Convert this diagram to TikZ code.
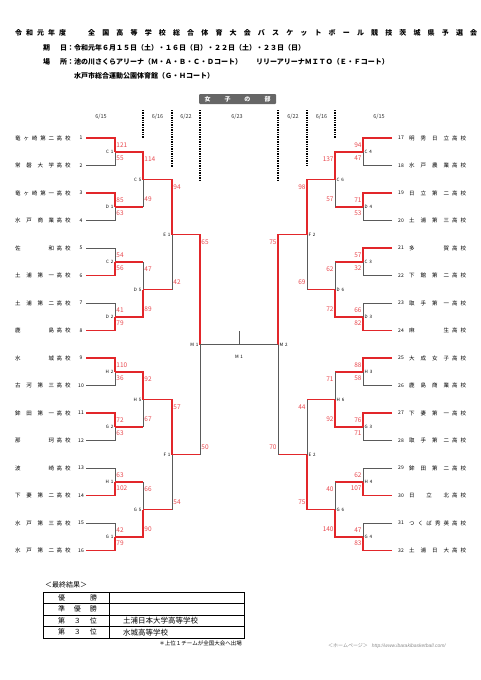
\documentclass[tikz,border=0pt]{standalone}
\usepackage{fontspec}
\setmainfont{Noto Sans CJK JP}
\newfontfamily\urlfont{Liberation Sans}
\usetikzlibrary{calc}

\definecolor{winred}{RGB}{226,38,42}
\definecolor{scorered}{RGB}{232,72,78}
\definecolor{losegray}{RGB}{90,90,90}

\newcommand\spreadloop[2]{#1\ifx\relax#2\else\hfil\expandafter\spreadloop\expandafter#2\fi}
\newcommand\spreadbox[2]{\makebox[#1][s]{\expandafter\spreadloop#2\relax}}
\newcommand\splitlab[2]{#1\hspace{1.8pt}#2}

\begin{document}
\begin{tikzpicture}[x=1pt,y=-1pt,
	win/.style={draw=winred,line width=1.4pt},
	lose/.style={draw=losegray,line width=0.6pt},
	score/.style={text=scorered,font=\fontsize{6.5}{7}\selectfont,inner xsep=1.2pt,inner ysep=0pt},
	mlab/.style={font=\fontsize{4.5}{5}\selectfont,inner xsep=1.5pt,inner ysep=0pt},
	team/.style={font=\fontsize{5.5}{6}\selectfont,inner sep=0pt,anchor=west},
	num/.style={font=\fontsize{5}{6}\selectfont,inner sep=0pt},
	date/.style={font=\fontsize{5.5}{6}\selectfont,text=black!80,inner sep=0pt},
	daysep/.style={line width=1.1pt,dash pattern=on 1.4pt off 1pt},
	head/.style={font=\fontsize{7}{8}\selectfont\bfseries,inner sep=0pt,anchor=west},
	tbl/.style={line width=0.9pt},
	]
			\useasboundingbox (0,0) rectangle (481,680);
			
			\node[head] (title1) at (15,33) {\spreadbox{51pt}{令和元年度}};
			\node[head] (title2) at (88,33) {\spreadbox{389pt}{全国高等学校総合体育大会バスケットボール競技茨城県予選会}};
			\node[head] (kijitsu) at (43,48) {\spreadbox{24pt}{期日}：令和元年６月１５日（土）・１６日（日）・２２日（土）・２３日（日）};
			\node[head] (basho) at (43,62) {\spreadbox{24pt}{場所}：池の川さくらアリーナ（Ｍ・Ａ・Ｂ・Ｃ・Ｄコート）　　リリーアリーナＭＩＴＯ（Ｅ・Ｆコート）};
			\node[head] (basho2) at (74,76) {水戸市総合運動公園体育館（Ｇ・Ｈコート）};
			\node[fill=black!60,text=white,rounded corners=1pt,minimum width=77pt,minimum height=10pt,inner sep=0pt,font=\fontsize{6}{7}\selectfont\bfseries] (bu) at (237.5,99) {\spreadbox{66pt}{女子の部}};
			
			\node[date] (d1) at (101,117) {6/15};
			\node[date] (d2) at (157.5,117) {6/16};
			\node[date] (d3) at (186,117) {6/22};
			\node[date] (d4) at (237,117) {6/23};
			\node[date] (d5) at (293,117) {6/22};
			\node[date] (d6) at (321.5,117) {6/16};
			\node[date] (d7) at (379,117) {6/15};
			\foreach \x/\y in {143/138,172/167,200/180,278/180,307/166,335/138}
				\draw[daysep] (\x,110) -- (\x,\y);
			
			\foreach \i/\nm in {1/竜ヶ崎第二,2/常磐大学,3/竜ヶ崎第一,4/水戸商業,5/佐和,6/土浦第一,7/土浦第二,8/鹿島,9/水城,10/古河第三,11/鉾田第一,12/那珂,13/波崎,14/下妻第二,15/水戸第三,16/水戸第二}{
				\pgfmathsetmacro\ty{138+(\i-1)*27.5}
				\node[team] (name\i) at (15,\ty) {\spreadbox{39pt}{\nm}\hspace{2.5pt}\spreadbox{14pt}{高校}};
				\node[num] (num\i) at (81,\ty) {\i};
				\coordinate (t\i) at (86,\ty);
			}
			\foreach \i/\nm in {17/明秀日立,18/水戸農業,19/日立第二,20/土浦第三,21/多賀,22/下館第二,23/取手第一,24/麻生,25/大成女子,26/鹿島商業,27/下妻第一,28/取手第二,29/鉾田第二,30/日立北,31/つくば秀英,32/土浦日大}{
				\pgfmathsetmacro\ty{138+(\i-17)*27.5}
				\node[team] (name\i) at (409,\ty) {\spreadbox{40pt}{\nm}\hspace{3pt}\spreadbox{14pt}{高校}};
				\node[num] (num\i) at (401,\ty) {\i};
				\coordinate (t\i) at (392,\ty);
			}
			
			\foreach \m/\x/\y in {C1/115/152,D1/115/207,C2/115/262,D2/115/317,H2/115/372,G2/115/427,H1/115/482,G1/115/537,
				C5/143/179.5,D5/143/289.5,H5/143/399.5,G5/143/509.5,E1/172/234.5,F1/172/454.5,M1/200/344.5,
				C4/363/152,D4/363/207,C3/363/262,D3/363/317,H3/363/372,G3/363/427,H4/363/482,G4/363/537,
				C6/335/179.5,D6/335/289.5,H6/335/399.5,G6/335/509.5,F2/307/234.5,E2/307/454.5,M2/278/344.5}
				\coordinate (\m) at (\x,\y);
			
			\foreach \a/\b/\m/\sa/\sb/\w/\an/\la in {t1/t2/C1/121/55/1/west/east,t3/t4/D1/85/63/1/west/east,
				t5/t6/C2/54/56/2/west/east,t7/t8/D2/41/79/2/west/east,t9/t10/H2/110/36/1/west/east,
				t11/t12/G2/72/63/1/west/east,t13/t14/H1/63/102/2/west/east,t15/t16/G1/42/79/2/west/east,
				t17/t18/C4/94/47/1/east/west,t19/t20/D4/71/53/1/east/west,t21/t22/C3/57/32/1/east/west,
				t23/t24/D3/66/82/2/east/west,t25/t26/H3/88/58/1/east/west,t27/t28/G3/76/71/1/east/west,
				t29/t30/H4/62/107/2/east/west,t31/t32/G4/47/83/2/east/west}{
				\ifnum\w=1 \def\win{\a}\def\los{\b}\else\def\win{\b}\def\los{\a}\fi
				\draw[lose] (\los) -| (\m);
				\draw[win] (\win) -| (\m);
				\node[score,anchor=\an] (s\a) at ($(\a -| \m)+(0,7.5)$) {\sa};
				\node[score,anchor=\an] (s\b) at ($(\b -| \m)+(0,-7.5)$) {\sb};
				\node[mlab,anchor=\la] (l\m) at (\m) {\expandafter\splitlab\m};
			}
			\foreach \a/\b/\m/\sa/\sb/\w/\an/\la in {C1/D1/C5/114/49/1/west/east,C2/D2/D5/47/89/2/west/east,
				H2/G2/H5/92/67/1/west/east,H1/G1/G5/66/90/2/west/east,C5/D5/E1/94/42/1/west/east,
				H5/G5/F1/57/54/1/west/east,E1/F1/M1/65/50/1/west/east,
				C4/D4/C6/137/57/1/east/west,C3/D3/D6/62/72/2/east/west,H3/G3/H6/71/92/2/east/west,
				H4/G4/G6/40/140/2/east/west,C6/D6/F2/98/69/1/east/west,H6/G6/E2/44/75/2/east/west,
				F2/E2/M2/75/70/1/east/west}{
				\ifnum\w=1 \def\win{\a}\def\los{\b}\else\def\win{\b}\def\los{\a}\fi
				\draw[win] (\los) -- (\los -| \m);
				\draw[lose] (\los -| \m) -- (\m);
				\draw[win] (\win) -| (\m);
				\node[score,anchor=\an] (s\a) at ($(\a -| \m)+(0,7.5)$) {\sa};
				\node[score,anchor=\an] (s\b) at ($(\b -| \m)+(0,-7.5)$) {\sb};
				\node[mlab,anchor=\la] (l\m) at (\m) {\expandafter\splitlab\m};
			}
			
			\draw[lose] (M1) -- (M2);
			\coordinate (fin) at (239,344.5);
			\draw[lose] (fin) -- ++(0,-13.5);
			\node[mlab] (finlab) at (239,357) {M\hspace{1.8pt}1};
			
			\node[anchor=west,inner sep=0pt,font=\fontsize{7}{8}\selectfont] (kekka) at (45,585) {＜最終結果＞};
			\draw[tbl] (43,592) rectangle (244,638);
			\foreach \y in {603.5,615,626.5} \draw[tbl] (43,\y) -- (244,\y);
			\draw[tbl] (109,592) -- (109,638);
			\foreach \y/\r/\s [count=\k] in {597.75/優勝/,609.25/準優勝/,620.75/第３位/土浦日本大学高等学校,632.25/第３位/水城高等学校}{
				\node[inner sep=0pt,font=\fontsize{7}{8}\selectfont] (rank\k) at (77.5,\y) {\spreadbox{39pt}{\r}};
				\node[anchor=west,inner sep=0pt,font=\fontsize{7.5}{8}\selectfont] (school\k) at (123,\y) {\s};
			}
			\node[anchor=east,inner sep=0pt,font=\fontsize{5.5}{6}\selectfont] (note) at (242,643) {＊上位１チームが全国大会へ出場};
			\node[anchor=west,inner sep=0pt,text=black!45,font=\fontsize{5}{6}\selectfont] (hp) at (328,646) {＜ホームページ＞\hspace{4pt}{\urlfont\itshape http://www.ibarakibasketball.com/}};
\end{tikzpicture}
\end{document}
